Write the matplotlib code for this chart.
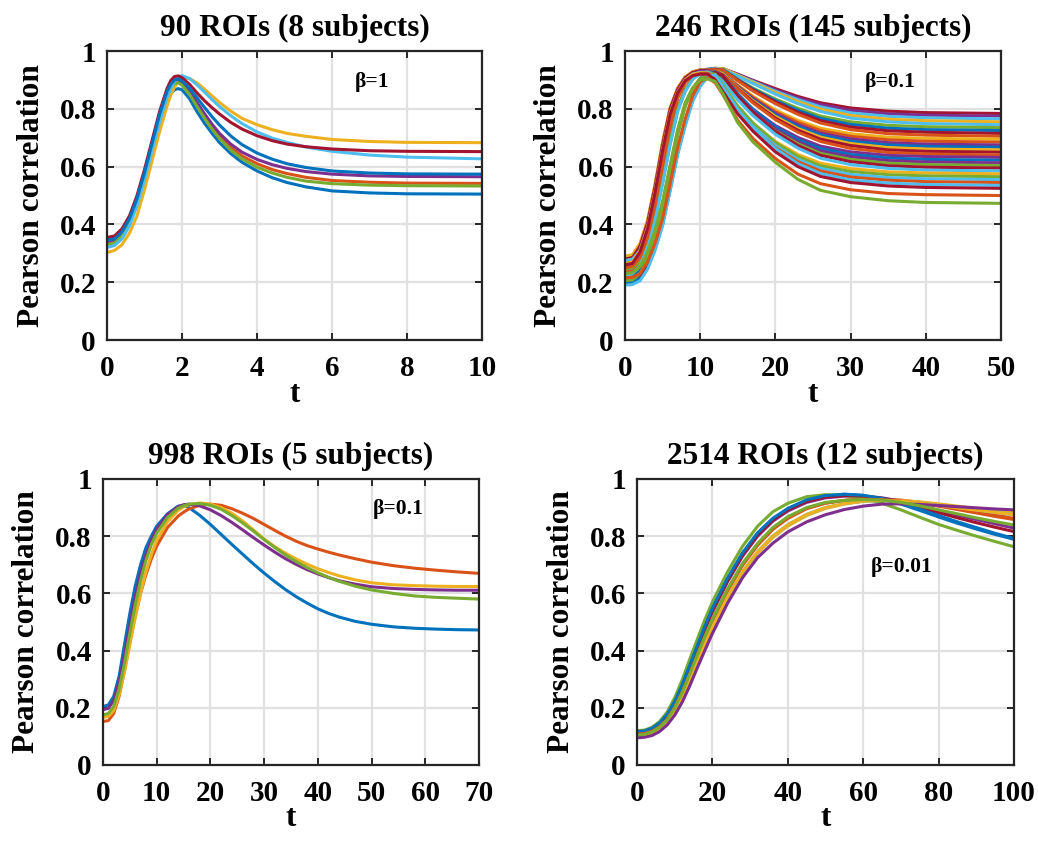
import matplotlib
matplotlib.use("Agg")
import matplotlib.pyplot as plt

plt.rcParams['font.family'] = ['Liberation Serif', 'DejaVu Serif']
plt.rcParams['font.weight'] = 'bold'

# MATLAB default colour order
C = ['#0072BD', '#D95319', '#EDB120', '#7E2F8E', '#77AC30', '#4DBEEE', '#A2142F']

# ---------------- Panel 1: 90 ROIs (8 subjects), beta=1 ----------------
p1_title = "90 ROIs (8 subjects)"
p1_beta = "β=1"
p1_t = [0, 0.2, 0.4, 0.6, 0.8, 1.0, 1.2, 1.4, 1.6, 1.7, 1.8, 1.9, 2.0, 2.2, 2.4, 2.6, 2.8, 3.0,
        3.3, 3.6, 4.0, 4.4, 4.8, 5.3, 6.0, 7.0, 8.0, 10.0]
p1_curves = [
    [0.35, 0.355, 0.378, 0.42, 0.485, 0.57, 0.665, 0.755, 0.83, 0.853, 0.866, 0.87, 0.866, 0.835, 0.79, 0.75, 0.715, 0.683, 0.645, 0.615, 0.585, 0.562, 0.545, 0.53, 0.516, 0.509, 0.506, 0.505],
    [0.335, 0.342, 0.367, 0.412, 0.483, 0.573, 0.673, 0.773, 0.853, 0.878, 0.893, 0.895, 0.887, 0.856, 0.815, 0.775, 0.738, 0.705, 0.666, 0.637, 0.61, 0.59, 0.576, 0.563, 0.552, 0.546, 0.543, 0.542],
    [0.303, 0.31, 0.33, 0.37, 0.43, 0.52, 0.62, 0.72, 0.81, 0.848, 0.875, 0.895, 0.906, 0.905, 0.89, 0.868, 0.845, 0.822, 0.792, 0.767, 0.745, 0.728, 0.715, 0.705, 0.694, 0.687, 0.684, 0.683],
    [0.34, 0.347, 0.372, 0.418, 0.49, 0.58, 0.68, 0.78, 0.86, 0.886, 0.9, 0.901, 0.893, 0.862, 0.822, 0.783, 0.747, 0.715, 0.678, 0.65, 0.625, 0.607, 0.594, 0.583, 0.574, 0.568, 0.566, 0.565],
    [0.33, 0.336, 0.36, 0.405, 0.475, 0.565, 0.665, 0.765, 0.845, 0.872, 0.888, 0.89, 0.882, 0.85, 0.808, 0.768, 0.73, 0.697, 0.657, 0.627, 0.598, 0.578, 0.563, 0.55, 0.541, 0.536, 0.534, 0.533],
    [0.32, 0.327, 0.35, 0.395, 0.465, 0.555, 0.655, 0.755, 0.84, 0.872, 0.895, 0.91, 0.915, 0.905, 0.883, 0.858, 0.832, 0.808, 0.776, 0.749, 0.72, 0.699, 0.684, 0.668, 0.653, 0.64, 0.633, 0.627],
    [0.355, 0.36, 0.385, 0.43, 0.50, 0.59, 0.69, 0.79, 0.87, 0.898, 0.912, 0.914, 0.908, 0.885, 0.855, 0.828, 0.804, 0.782, 0.753, 0.73, 0.707, 0.69, 0.678, 0.669, 0.661, 0.655, 0.653, 0.652],
    [0.345, 0.35, 0.375, 0.42, 0.49, 0.58, 0.68, 0.78, 0.86, 0.885, 0.9, 0.903, 0.897, 0.872, 0.838, 0.805, 0.773, 0.744, 0.706, 0.676, 0.647, 0.626, 0.61, 0.597, 0.585, 0.578, 0.575, 0.574],
]
p1_colors = [C[0], C[1], C[2], C[3], C[4], C[5], C[6], C[0]]

# ---------------- Panel 2: 246 ROIs (145 subjects), beta=0.1 ----------------
p2_title = "246 ROIs (145 subjects)"
p2_beta = "β=0.1"
p2_t = [0, 1, 2, 3, 4, 5, 6, 7, 8, 9, 10, 11, 12, 13, 15, 17, 20, 23, 26, 30, 35, 40, 50]
p2_curves = [
    [0.285, 0.29, 0.33, 0.41, 0.535, 0.68, 0.80, 0.87, 0.91, 0.928, 0.935, 0.937, 0.94, 0.939, 0.920, 0.899, 0.870, 0.843, 0.821, 0.803, 0.792, 0.787, 0.784],
    [0.245, 0.25, 0.275, 0.335, 0.43, 0.555, 0.69, 0.80, 0.865, 0.905, 0.925, 0.935, 0.94, 0.939, 0.919, 0.897, 0.866, 0.838, 0.815, 0.795, 0.783, 0.778, 0.775],
    [0.265, 0.27, 0.30, 0.37, 0.48, 0.62, 0.75, 0.845, 0.895, 0.922, 0.932, 0.937, 0.94, 0.938, 0.917, 0.895, 0.861, 0.832, 0.807, 0.786, 0.774, 0.769, 0.765],
    [0.22, 0.223, 0.245, 0.295, 0.37, 0.47, 0.595, 0.72, 0.815, 0.87, 0.905, 0.928, 0.938, 0.94, 0.916, 0.892, 0.857, 0.825, 0.799, 0.777, 0.764, 0.759, 0.755],
    [0.275, 0.28, 0.32, 0.40, 0.525, 0.67, 0.795, 0.865, 0.905, 0.925, 0.933, 0.936, 0.938, 0.936, 0.913, 0.888, 0.851, 0.818, 0.791, 0.768, 0.755, 0.749, 0.745],
    [0.23, 0.235, 0.262, 0.325, 0.42, 0.545, 0.68, 0.795, 0.862, 0.903, 0.924, 0.933, 0.937, 0.934, 0.903, 0.872, 0.834, 0.802, 0.775, 0.755, 0.743, 0.738, 0.735],
    [0.195, 0.197, 0.21, 0.25, 0.315, 0.40, 0.52, 0.645, 0.745, 0.83, 0.88, 0.915, 0.932, 0.937, 0.901, 0.869, 0.829, 0.795, 0.767, 0.746, 0.733, 0.728, 0.725],
    [0.255, 0.26, 0.29, 0.36, 0.47, 0.61, 0.745, 0.84, 0.893, 0.921, 0.932, 0.936, 0.937, 0.933, 0.899, 0.866, 0.824, 0.788, 0.759, 0.737, 0.724, 0.719, 0.715],
    [0.21, 0.213, 0.237, 0.29, 0.365, 0.465, 0.59, 0.715, 0.812, 0.868, 0.903, 0.925, 0.934, 0.935, 0.897, 0.862, 0.818, 0.781, 0.751, 0.728, 0.714, 0.709, 0.705],
    [0.29, 0.295, 0.335, 0.415, 0.54, 0.685, 0.805, 0.872, 0.91, 0.928, 0.934, 0.935, 0.933, 0.923, 0.882, 0.844, 0.796, 0.760, 0.733, 0.714, 0.702, 0.698, 0.695],
    [0.25, 0.255, 0.28, 0.34, 0.435, 0.56, 0.695, 0.803, 0.867, 0.906, 0.926, 0.933, 0.935, 0.923, 0.880, 0.840, 0.790, 0.753, 0.725, 0.705, 0.693, 0.688, 0.685],
    [0.27, 0.275, 0.305, 0.375, 0.485, 0.625, 0.753, 0.847, 0.896, 0.922, 0.932, 0.934, 0.932, 0.921, 0.877, 0.836, 0.784, 0.745, 0.716, 0.696, 0.683, 0.678, 0.675],
    [0.20, 0.202, 0.215, 0.255, 0.32, 0.405, 0.525, 0.65, 0.75, 0.832, 0.882, 0.912, 0.93, 0.924, 0.874, 0.832, 0.779, 0.739, 0.710, 0.688, 0.675, 0.670, 0.667],
    [0.225, 0.228, 0.25, 0.30, 0.375, 0.475, 0.60, 0.724, 0.818, 0.872, 0.906, 0.925, 0.932, 0.922, 0.873, 0.829, 0.774, 0.732, 0.702, 0.680, 0.666, 0.661, 0.658],
    [0.28, 0.285, 0.325, 0.405, 0.53, 0.675, 0.798, 0.868, 0.907, 0.926, 0.932, 0.932, 0.93, 0.918, 0.870, 0.825, 0.768, 0.726, 0.695, 0.673, 0.658, 0.653, 0.650],
    [0.235, 0.24, 0.267, 0.33, 0.425, 0.55, 0.685, 0.797, 0.863, 0.904, 0.924, 0.931, 0.932, 0.917, 0.868, 0.821, 0.763, 0.719, 0.687, 0.663, 0.649, 0.644, 0.640],
    [0.26, 0.265, 0.295, 0.365, 0.475, 0.615, 0.748, 0.843, 0.894, 0.921, 0.93, 0.93, 0.921, 0.900, 0.847, 0.799, 0.742, 0.701, 0.671, 0.651, 0.639, 0.635, 0.632],
    [0.215, 0.218, 0.24, 0.292, 0.367, 0.467, 0.592, 0.717, 0.813, 0.869, 0.904, 0.925, 0.928, 0.915, 0.852, 0.799, 0.738, 0.694, 0.663, 0.642, 0.630, 0.625, 0.622],
    [0.27, 0.275, 0.315, 0.395, 0.52, 0.665, 0.79, 0.862, 0.903, 0.922, 0.929, 0.93, 0.92, 0.898, 0.841, 0.791, 0.730, 0.686, 0.654, 0.634, 0.621, 0.616, 0.613],
    [0.245, 0.25, 0.275, 0.335, 0.43, 0.555, 0.69, 0.80, 0.865, 0.905, 0.922, 0.928, 0.918, 0.896, 0.837, 0.785, 0.724, 0.679, 0.646, 0.625, 0.612, 0.607, 0.604],
    [0.21, 0.212, 0.225, 0.265, 0.33, 0.415, 0.535, 0.658, 0.755, 0.835, 0.883, 0.912, 0.926, 0.915, 0.845, 0.788, 0.722, 0.673, 0.639, 0.617, 0.603, 0.598, 0.595],
    [0.275, 0.28, 0.31, 0.38, 0.49, 0.63, 0.755, 0.848, 0.896, 0.92, 0.926, 0.927, 0.917, 0.893, 0.831, 0.777, 0.712, 0.664, 0.629, 0.607, 0.594, 0.588, 0.585],
    [0.265, 0.27, 0.31, 0.39, 0.515, 0.66, 0.785, 0.858, 0.90, 0.92, 0.925, 0.925, 0.908, 0.873, 0.803, 0.75, 0.687, 0.642, 0.612, 0.593, 0.582, 0.578, 0.575],
    [0.205, 0.208, 0.23, 0.283, 0.36, 0.46, 0.585, 0.71, 0.808, 0.866, 0.902, 0.922, 0.92, 0.882, 0.81, 0.752, 0.684, 0.635, 0.603, 0.583, 0.572, 0.568, 0.565],
    [0.225, 0.23, 0.258, 0.32, 0.415, 0.54, 0.675, 0.79, 0.86, 0.902, 0.921, 0.924, 0.906, 0.869, 0.795, 0.74, 0.673, 0.625, 0.594, 0.573, 0.562, 0.558, 0.555],
    [0.25, 0.255, 0.285, 0.355, 0.465, 0.605, 0.74, 0.837, 0.89, 0.915, 0.922, 0.923, 0.904, 0.866, 0.791, 0.734, 0.666, 0.617, 0.585, 0.564, 0.553, 0.548, 0.545],
    [0.19, 0.192, 0.205, 0.245, 0.31, 0.395, 0.515, 0.64, 0.74, 0.826, 0.878, 0.91, 0.918, 0.876, 0.798, 0.736, 0.663, 0.61, 0.576, 0.554, 0.543, 0.538, 0.535],
    [0.26, 0.265, 0.305, 0.385, 0.51, 0.655, 0.78, 0.855, 0.897, 0.915, 0.92, 0.92, 0.90, 0.861, 0.782, 0.723, 0.651, 0.60, 0.566, 0.545, 0.533, 0.528, 0.525],
    [0.215, 0.217, 0.23, 0.27, 0.335, 0.42, 0.54, 0.665, 0.765, 0.845, 0.893, 0.907, 0.89, 0.85, 0.76, 0.698, 0.628, 0.574, 0.541, 0.52, 0.507, 0.503, 0.50],
    [0.23, 0.233, 0.255, 0.305, 0.38, 0.48, 0.605, 0.727, 0.82, 0.873, 0.9, 0.903, 0.895, 0.853, 0.752, 0.686, 0.615, 0.556, 0.518, 0.496, 0.482, 0.476, 0.473],
]
p2_colors = [C[6], C[3], C[5], C[2], C[5], C[4], C[0], C[6], C[1], C[2],
             C[1], C[3], C[0], C[2], C[6], C[1], C[3], C[0], C[3], C[4],
             C[6], C[5], C[2], C[4], C[5], C[1], C[5], C[6], C[1], C[4]]

# ---------------- Panel 3: 998 ROIs (5 subjects), beta=0.1 ----------------
p3_title = "998 ROIs (5 subjects)"
p3_beta = "β=0.1"
p3_t = [0, 1, 2, 3, 4, 5, 6, 7, 8, 9, 10, 12, 14, 15, 16, 18, 20, 22, 24, 26, 28, 30, 32, 34,
        36, 38, 40, 42, 44, 47, 50, 54, 58, 62, 66, 70]
p3_curves = [
    [0.204, 0.21, 0.24, 0.31, 0.42, 0.53, 0.625, 0.70, 0.76, 0.80, 0.835, 0.878, 0.905, 0.907, 0.9, 0.873, 0.841, 0.806, 0.771, 0.737, 0.703, 0.671, 0.641, 0.613, 0.588, 0.566, 0.546, 0.53, 0.517, 0.502, 0.492, 0.483, 0.478, 0.475, 0.473, 0.472],
    [0.152, 0.155, 0.18, 0.24, 0.33, 0.43, 0.52, 0.60, 0.665, 0.72, 0.765, 0.83, 0.87, 0.884, 0.895, 0.908, 0.912, 0.908, 0.896, 0.88, 0.862, 0.841, 0.82, 0.80, 0.782, 0.767, 0.755, 0.744, 0.734, 0.721, 0.709, 0.697, 0.688, 0.681, 0.675, 0.670],
    [0.166, 0.17, 0.19, 0.245, 0.325, 0.42, 0.515, 0.60, 0.675, 0.735, 0.785, 0.85, 0.89, 0.902, 0.91, 0.916, 0.912, 0.9, 0.88, 0.853, 0.822, 0.79, 0.763, 0.74, 0.72, 0.702, 0.686, 0.673, 0.661, 0.647, 0.637, 0.63, 0.627, 0.625, 0.624, 0.624],
    [0.193, 0.198, 0.225, 0.29, 0.385, 0.49, 0.59, 0.67, 0.735, 0.785, 0.825, 0.875, 0.903, 0.91, 0.912, 0.906, 0.892, 0.872, 0.848, 0.822, 0.795, 0.769, 0.744, 0.721, 0.701, 0.683, 0.668, 0.655, 0.644, 0.632, 0.623, 0.617, 0.614, 0.612, 0.611, 0.611],
    [0.175, 0.18, 0.205, 0.265, 0.355, 0.46, 0.56, 0.645, 0.715, 0.77, 0.81, 0.865, 0.898, 0.906, 0.912, 0.914, 0.908, 0.894, 0.872, 0.846, 0.818, 0.788, 0.76, 0.734, 0.711, 0.69, 0.672, 0.656, 0.642, 0.625, 0.612, 0.6, 0.591, 0.586, 0.583, 0.58],
]
p3_colors = [C[0], C[1], C[2], C[3], C[4]]

# ---------------- Panel 4: 2514 ROIs (12 subjects), beta=0.01 ----------------
p4_title = "2514 ROIs (12 subjects)"
p4_beta = "β=0.01"
p4_t = [0, 2, 4, 6, 8, 10, 12, 14, 16, 18, 20, 24, 28, 32, 36, 40, 45, 50, 55, 60, 65, 70,
        75, 80, 85, 90, 95, 100]
p4_curves = [
    [0.115, 0.117, 0.127, 0.145, 0.175, 0.22, 0.278, 0.345, 0.415, 0.482, 0.545, 0.65, 0.74, 0.81, 0.86, 0.895, 0.925, 0.94, 0.947, 0.942, 0.93, 0.912, 0.89, 0.867, 0.845, 0.825, 0.806, 0.789],
    [0.105, 0.107, 0.115, 0.131, 0.157, 0.198, 0.25, 0.312, 0.378, 0.442, 0.503, 0.608, 0.698, 0.768, 0.823, 0.862, 0.896, 0.915, 0.925, 0.93, 0.93, 0.926, 0.918, 0.908, 0.897, 0.886, 0.874, 0.862],
    [0.10, 0.102, 0.109, 0.124, 0.148, 0.185, 0.235, 0.294, 0.355, 0.416, 0.475, 0.58, 0.67, 0.74, 0.795, 0.835, 0.872, 0.897, 0.912, 0.922, 0.926, 0.925, 0.92, 0.913, 0.905, 0.897, 0.889, 0.882],
    [0.11, 0.112, 0.121, 0.139, 0.168, 0.212, 0.27, 0.337, 0.405, 0.472, 0.535, 0.64, 0.73, 0.80, 0.852, 0.888, 0.918, 0.934, 0.94, 0.94, 0.934, 0.922, 0.906, 0.89, 0.873, 0.858, 0.843, 0.828],
    [0.12, 0.122, 0.132, 0.152, 0.185, 0.235, 0.298, 0.37, 0.44, 0.508, 0.57, 0.675, 0.765, 0.835, 0.885, 0.915, 0.938, 0.945, 0.943, 0.932, 0.915, 0.892, 0.866, 0.841, 0.82, 0.80, 0.781, 0.763],
    [0.102, 0.104, 0.111, 0.127, 0.152, 0.19, 0.24, 0.30, 0.362, 0.423, 0.482, 0.587, 0.676, 0.746, 0.80, 0.84, 0.876, 0.90, 0.914, 0.922, 0.925, 0.922, 0.916, 0.908, 0.899, 0.891, 0.883, 0.875],
    [0.113, 0.115, 0.124, 0.142, 0.171, 0.216, 0.274, 0.341, 0.41, 0.477, 0.54, 0.645, 0.735, 0.805, 0.856, 0.892, 0.922, 0.937, 0.942, 0.94, 0.932, 0.918, 0.90, 0.882, 0.864, 0.847, 0.831, 0.816],
    [0.117, 0.119, 0.129, 0.147, 0.177, 0.222, 0.281, 0.349, 0.418, 0.485, 0.548, 0.653, 0.742, 0.812, 0.862, 0.897, 0.927, 0.942, 0.946, 0.943, 0.932, 0.915, 0.894, 0.872, 0.85, 0.83, 0.81, 0.792],
    [0.108, 0.11, 0.118, 0.134, 0.16, 0.202, 0.255, 0.318, 0.384, 0.448, 0.508, 0.612, 0.702, 0.772, 0.826, 0.865, 0.898, 0.916, 0.925, 0.929, 0.928, 0.923, 0.915, 0.905, 0.893, 0.881, 0.869, 0.858],
    [0.102, 0.104, 0.111, 0.127, 0.152, 0.19, 0.24, 0.30, 0.362, 0.423, 0.482, 0.587, 0.676, 0.746, 0.80, 0.84, 0.876, 0.90, 0.914, 0.922, 0.925, 0.922, 0.916, 0.908, 0.899, 0.891, 0.883, 0.875],
    [0.095, 0.097, 0.103, 0.117, 0.14, 0.174, 0.22, 0.277, 0.34, 0.401, 0.46, 0.565, 0.655, 0.725, 0.775, 0.815, 0.85, 0.875, 0.893, 0.905, 0.912, 0.913, 0.911, 0.907, 0.903, 0.899, 0.895, 0.892],
    [0.105, 0.107, 0.116, 0.132, 0.158, 0.2, 0.254, 0.318, 0.385, 0.449, 0.51, 0.615, 0.705, 0.775, 0.83, 0.868, 0.90, 0.918, 0.925, 0.928, 0.926, 0.918, 0.906, 0.892, 0.878, 0.864, 0.851, 0.839],
]
p4_colors = [C[i % 7] for i in range(12)]

y_ticks = [0, 0.2, 0.4, 0.6, 0.8, 1.0]
y_ticklabels = ['0', '0.2', '0.4', '0.6', '0.8', '1']

panels = [
    dict(title=p1_title, beta=p1_beta, t=p1_t, curves=p1_curves, colors=p1_colors,
         xmax=10, xticks=[0, 2, 4, 6, 8, 10], beta_pos=(7.07, 0.893),
         rect=[0.1031, 0.5957, 0.3613, 0.3436]),
    dict(title=p2_title, beta=p2_beta, t=p2_t, curves=p2_curves, colors=p2_colors,
         xmax=50, xticks=[0, 10, 20, 30, 40, 50], beta_pos=(35.3, 0.894),
         rect=[0.6021, 0.5957, 0.3622, 0.3436]),
    dict(title=p3_title, beta=p3_beta, t=p3_t, curves=p3_curves, colors=p3_colors,
         xmax=70, xticks=[0, 10, 20, 30, 40, 50, 60, 70], beta_pos=(55.0, 0.894),
         rect=[0.0992, 0.0904, 0.3622, 0.3401]),
    dict(title=p4_title, beta=p4_beta, t=p4_t, curves=p4_curves, colors=p4_colors,
         xmax=100, xticks=[0, 20, 40, 60, 80, 100], beta_pos=(70.1, 0.693),
         rect=[0.6137, 0.0904, 0.3632, 0.3401]),
]

fig = plt.figure(figsize=(10.38, 8.41), dpi=100)
for p in panels:
    ax = fig.add_axes(p['rect'])
    for vals, col in zip(p['curves'], p['colors']):
        ax.plot(p['t'], vals, color=col, lw=2.2, solid_joinstyle='round')
    ax.set_xlim(0, p['xmax'])
    ax.set_ylim(0, 1)
    ax.set_xticks(p['xticks'])
    ax.set_xticklabels([str(v) for v in p['xticks']])
    ax.set_yticks(y_ticks)
    ax.set_yticklabels(y_ticklabels)
    ax.grid(True, color='#e1e1e1', lw=1.6)
    ax.set_axisbelow(True)
    for s in ax.spines.values():
        s.set_color('#262626')
        s.set_linewidth(1.6)
    ax.tick_params(direction='in', top=True, right=True, length=5, width=1.4,
                   color='#262626', labelsize=21, pad=8)
    ax.tick_params(axis='x', pad=11)
    for lab in ax.get_xticklabels() + ax.get_yticklabels():
        lab.set_fontweight('bold')
    ax.set_title(p['title'], fontsize=22.5, fontweight='bold', pad=11)
    ax.set_ylabel('Pearson correlation', fontsize=22.5, fontweight='bold', labelpad=10)
    ax.set_xlabel('t', fontsize=22.5, fontweight='bold', labelpad=-2)
    ax.text(p['beta_pos'][0], p['beta_pos'][1], p['beta'], fontsize=15.5,
            fontweight='bold', ha='center', va='center')

fig.savefig('out.png', dpi=100)
